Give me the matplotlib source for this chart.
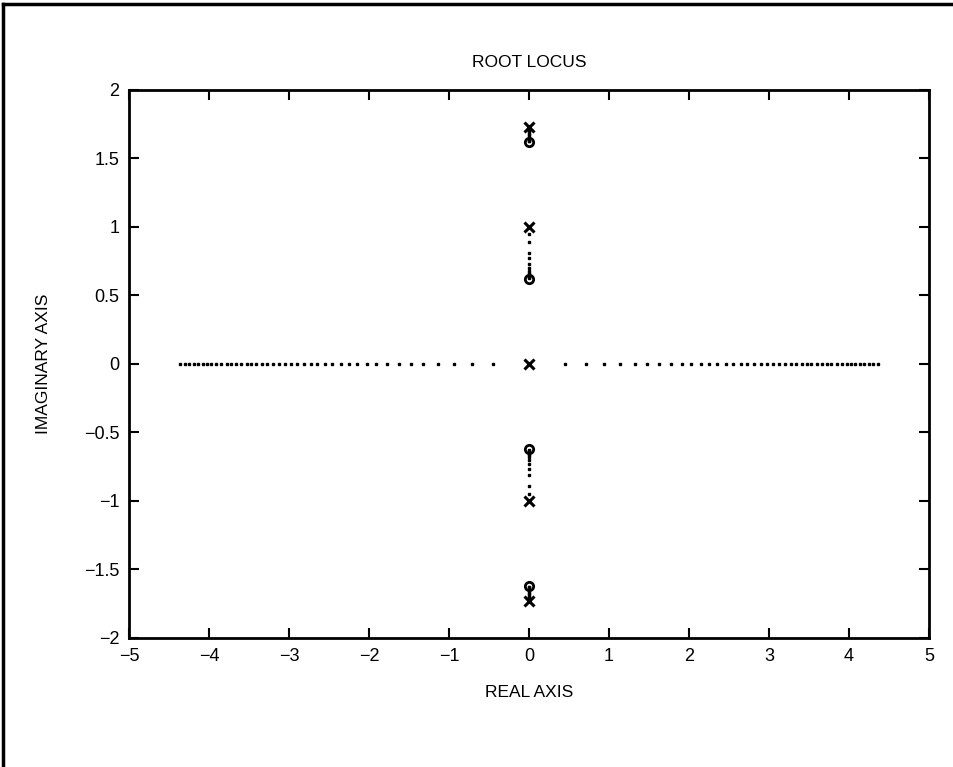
import matplotlib
matplotlib.use("Agg")
import matplotlib.pyplot as plt
from matplotlib.lines import Line2D
import numpy as np

# Data
poles_im = [1.732, 1.0, 0.0, -1.0, -1.732]
zeros_im = [1.618, 0.618, -0.618, -1.618]
real_branch = [0.45, 0.71, 0.94, 1.14, 1.32, 1.48, 1.63, 1.77, 1.91, 2.03, 2.15,
               2.25, 2.35, 2.46, 2.55, 2.65, 2.73, 2.81, 2.90, 2.98, 3.05, 3.13,
               3.20, 3.27, 3.34, 3.41, 3.47, 3.53, 3.60, 3.66, 3.72, 3.78, 3.85,
               3.91, 3.97, 4.03, 4.08, 4.14, 4.19, 4.25, 4.30, 4.36]
upper_stalk = [1.72, 1.71, 1.70, 1.69, 1.68, 1.67, 1.66, 1.65, 1.64, 1.63, 1.625]
mid_branch = [0.95, 0.89, 0.81, 0.77, 0.73, 0.70, 0.68, 0.665, 0.655, 0.645, 0.635, 0.625]
xticks = [-5, -4, -3, -2, -1, 0, 1, 2, 3, 4, 5]
xtick_labels = ['−5', '−4', '−3', '−2', '−1', '0', '1', '2', '3', '4', '5']
yticks = [-2, -1.5, -1, -0.5, 0, 0.5, 1, 1.5, 2]
ytick_labels = ['−2', '−1.5', '−1', '−0.5', '0', '0.5', '1', '1.5', '2']

plt.rcParams['font.family'] = ['Liberation Sans', 'DejaVu Sans']

fig = plt.figure(figsize=(9.54, 7.67), dpi=100)
ax = fig.add_axes([0.1352, 0.1682, 0.8386, 0.7145])

# real-axis branches (both directions)
rb = np.array(real_branch)
ax.plot(np.concatenate([-rb, rb]), np.zeros(2 * len(rb)), linestyle='none',
        marker='s', markersize=1.8, color='black')

# imaginary-axis branches
im_pts = np.concatenate([upper_stalk, mid_branch, -np.array(mid_branch), -np.array(upper_stalk)])
ax.plot(np.zeros(len(im_pts)), im_pts, linestyle='none', marker='s',
        markersize=2.0, color='black')

# zeros
ax.plot(np.zeros(len(zeros_im)), zeros_im, linestyle='none', marker='o',
        markersize=6, markerfacecolor='none', markeredgecolor='black', markeredgewidth=2.0)
# poles
ax.plot(np.zeros(len(poles_im)), poles_im, linestyle='none', marker='x',
        markersize=6.5, markeredgewidth=2.2, color='black')

ax.set_xlim(-5, 5)
ax.set_ylim(-2, 2)
ax.set_xticks(xticks)
ax.set_xticklabels(xtick_labels)
ax.set_yticks(yticks)
ax.set_yticklabels(ytick_labels)
ax.tick_params(direction='in', length=7, width=1.5, top=True, right=True,
               labelsize=13)
ax.tick_params(axis='x', pad=7)
ax.tick_params(axis='y', pad=7)
for s in ax.spines.values():
    s.set_linewidth(2)

ax.text(0.5, 1.051, 'ROOT LOCUS', transform=ax.transAxes, ha='center',
        va='center', fontsize=12.5)
ax.set_xlabel('REAL AXIS', fontsize=12.5)
ax.xaxis.set_label_coords(0.5, -0.086)
ax.set_ylabel('IMAGINARY AXIS', fontsize=12.5)
ax.yaxis.set_label_coords(-0.097, 0.5)

# page frame (left and top edges)
fig.add_artist(Line2D([0.003, 0.003], [0, 0.995], transform=fig.transFigure,
                      color='black', linewidth=2.5))
fig.add_artist(Line2D([0.003, 1.0], [0.995, 0.995], transform=fig.transFigure,
                      color='black', linewidth=2.5))

fig.savefig('out.png', dpi=100)
